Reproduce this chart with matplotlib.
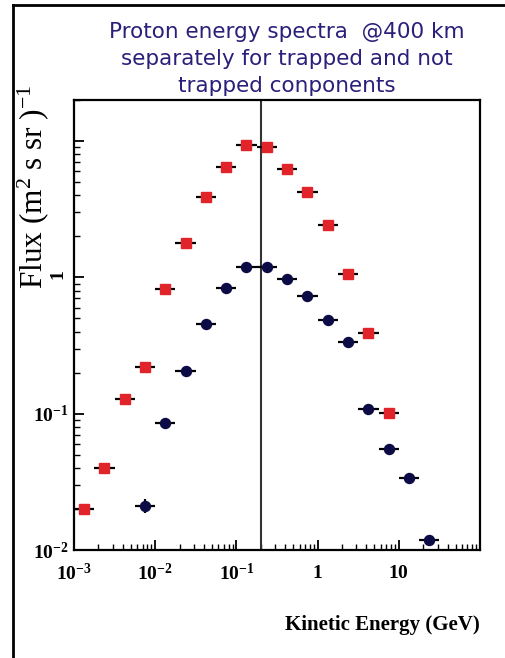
import numpy as np
import matplotlib.pyplot as plt
from matplotlib.lines import Line2D
from matplotlib.ticker import FixedLocator, FixedFormatter, LogLocator, NullFormatter

plt.rcParams['mathtext.fontset'] = 'custom'
plt.rcParams['mathtext.rm'] = 'Liberation Serif'
plt.rcParams['mathtext.it'] = 'Liberation Serif:italic'
plt.rcParams['mathtext.bf'] = 'Liberation Serif:bold'

# bin centres (GeV) and flux
square_energy = [1.33e-3, 2.37e-3, 4.22e-3, 7.5e-3, 1.33e-2, 2.37e-2, 4.22e-2, 7.5e-2,
                 0.133, 0.237, 0.422, 0.75, 1.33, 2.37, 4.22, 7.5]
square_flux = [0.020, 0.040, 0.128, 0.219, 0.82, 1.80, 3.86, 6.4,
               9.4, 9.0, 6.2, 4.2, 2.44, 1.05, 0.39, 0.101]

circle_energy = [7.5e-3, 1.33e-2, 2.37e-2, 4.22e-2, 7.5e-2, 0.133, 0.237, 0.422,
                 0.75, 1.33, 2.37, 4.22, 7.5, 13.3, 23.7]
circle_flux = [0.021, 0.085, 0.205, 0.453, 0.83, 1.20, 1.20, 0.97,
               0.73, 0.49, 0.334, 0.108, 0.055, 0.034, 0.0118]
circle_yerr_lo = [0.0023] + [0.0] * 14
circle_yerr_hi = [0.0026] + [0.0] * 14

cutoff_energy = 0.2  # GeV, vertical line

x_ticks = [1e-3, 1e-2, 1e-1, 1, 10]
x_ticklabels = [r'$\mathbf{10}^{\mathbf{-3}}$', r'$\mathbf{10}^{\mathbf{-2}}$',
                r'$\mathbf{10}^{\mathbf{-1}}$', r'$\mathbf{1}$', r'$\mathbf{10}$']
y_ticks = [1e-2, 1e-1, 1]
y_ticklabels = [r'$\mathbf{10}^{\mathbf{-2}}$', r'$\mathbf{10}^{\mathbf{-1}}$', r'$\mathbf{1}$']

title = "Proton energy spectra  @400 km\nseparately for trapped and not\ntrapped conponents"

half_bin = 10 ** 0.125


def bin_xerr(energy):
    e = np.asarray(energy)
    return [e - e / half_bin, e * half_bin - e]


fig = plt.figure(figsize=(5.05, 6.58), dpi=100)
ax = fig.add_axes([74 / 505, 108 / 658, 406 / 505, 450 / 658])

ax.errorbar(square_energy, square_flux, xerr=bin_xerr(square_energy), fmt='s',
            ms=7.2, mfc='#e1242a', mec='#e1242a', ecolor='black', elinewidth=1.6,
            capsize=0, zorder=3)
ax.errorbar(circle_energy, circle_flux, xerr=bin_xerr(circle_energy),
            yerr=[circle_yerr_lo, circle_yerr_hi], fmt='o',
            ms=7.2, mfc='#0d0b45', mec='#0d0b45', ecolor='black', elinewidth=1.6,
            capsize=0, zorder=3)
ax.axvline(cutoff_energy, color='#333333', lw=1.5, zorder=2)

ax.set_xscale('log')
ax.set_yscale('log')
ax.set_xlim(1e-3, 1e2)
ax.set_ylim(1e-2, 20)

ax.xaxis.set_major_locator(FixedLocator(x_ticks))
ax.xaxis.set_major_formatter(FixedFormatter(x_ticklabels))
ax.yaxis.set_major_locator(FixedLocator(y_ticks + [10]))
ax.yaxis.set_major_formatter(FixedFormatter(y_ticklabels + ['']))
for axis in (ax.xaxis, ax.yaxis):
    axis.set_minor_locator(LogLocator(base=10, subs=np.arange(2, 10)))
    axis.set_minor_formatter(NullFormatter())

ax.tick_params(which='both', direction='in', top=False, right=False)
ax.tick_params(which='major', length=7, width=1.3, labelsize=14)
ax.tick_params(which='minor', length=4, width=1.0)
ax.tick_params(axis='x', pad=9)
ax.tick_params(axis='y', pad=4)
for spine in ax.spines.values():
    spine.set_linewidth(1.6)
ax.get_yticklabels()[2].set_rotation(90)

fig.text(33 / 505, 1 - 187 / 658, r'Flux (m$^2$ s sr )$^{-1}$', rotation=90,
         ha='center', va='center', fontsize=22.5, family='Liberation Serif')
fig.text(480 / 505, 1 - 625 / 658, 'Kinetic Energy (GeV)', ha='right', va='center',
         fontsize=15, family='Liberation Serif', fontweight='bold')
fig.text(287 / 505, 1 - 59 / 658, title, ha='center', va='center', fontsize=15.5,
         color='#2a1f7a', linespacing=1.45)

# slide frame (left and top edges)
fig.add_artist(Line2D([13 / 505, 13 / 505], [0, 1 - 5 / 658], color='black', lw=2))
fig.add_artist(Line2D([13 / 505, 1], [1 - 5 / 658, 1 - 5 / 658], color='black', lw=2))

fig.savefig('out.png', dpi=100)
